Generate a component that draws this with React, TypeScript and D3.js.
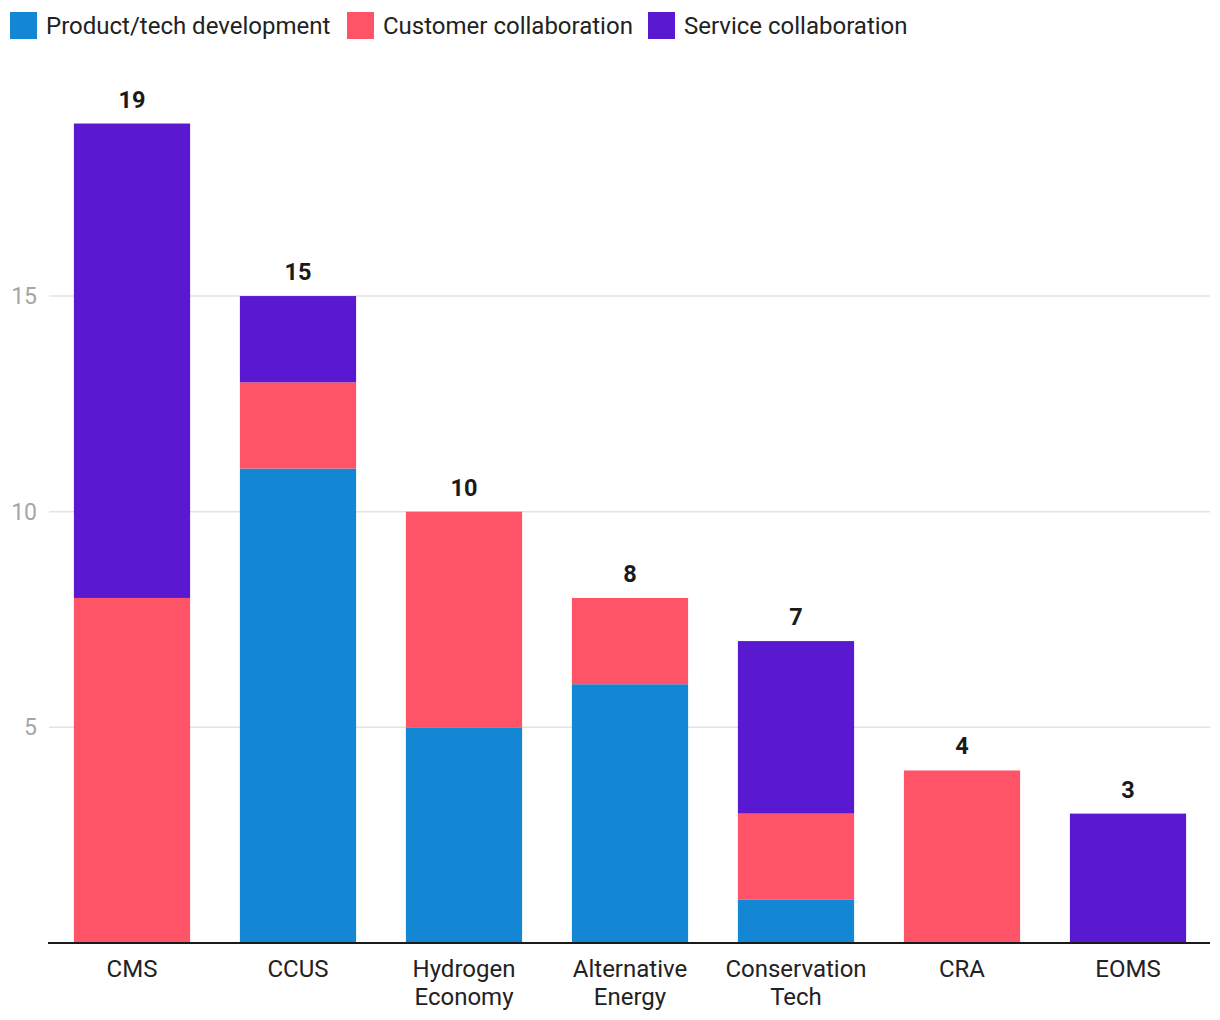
import React from "react";
import * as d3 from "d3";

const categories = ["CMS", "CCUS", "Hydrogen Economy", "Alternative Energy", "Conservation Tech", "CRA", "EOMS"];
const categoryLines = [["CMS"], ["CCUS"], ["Hydrogen", "Economy"], ["Alternative", "Energy"], ["Conservation", "Tech"], ["CRA"], ["EOMS"]];
const seriesNames = ["Product/tech development", "Customer collaboration", "Service collaboration"];
const productTech = [0, 11, 5, 6, 1, 0, 0];
const customerCollab = [8, 2, 5, 2, 2, 4, 0];
const serviceCollab = [11, 2, 0, 0, 4, 0, 3];
const yTicks = [5, 10, 15];
const colors = ["#1386D4", "#FF5468", "#5A19D1"];

export default function App() {
  const W = 1220, H = 1020;
  const x = d3.scaleBand().domain(categories).range([49, 1211]).paddingInner(0.3).paddingOuter(0.15);
  const y = d3.scaleLinear().domain([0, 20]).range([943, 80.4]);
  const rows = categories.map((c, i) => ({ cat: c, p: productTech[i], c: customerCollab[i], s: serviceCollab[i] }));
  const stack = d3.stack<any>().keys(["p", "c", "s"])(rows);
  const font = "Roboto, 'Noto Sans', sans-serif";
  const legendX = [10, 347, 648];
  return (
    <svg width={W} height={H} style={{ position: "absolute", left: 0, top: 0, background: "#fff" }} fontFamily={font}>
      {seriesNames.map((n, i) => (
        <g key={n}>
          <rect x={legendX[i]} y={12} width={27} height={27} fill={colors[i]} />
          <text x={legendX[i] + 36} y={34} fontSize={24} fill="#222">{n}</text>
        </g>
      ))}
      {yTicks.map((t) => (
        <g key={t}>
          <line x1={49} x2={1210} y1={y(t)} y2={y(t)} stroke="#e3e3e3" strokeWidth={1.5} />
          <text x={37} y={y(t) + 8} fontSize={23} fill="#a6a6a6" textAnchor="end">{t}</text>
        </g>
      ))}
      {stack.map((layer, li) => (
        <g key={li} fill={colors[li]}>
          {layer.map((d, i) =>
            d[1] - d[0] > 0 ? (
              <rect key={i} x={x(categories[i])!} width={x.bandwidth()} y={y(d[1])} height={y(d[0]) - y(d[1])} />
            ) : null
          )}
        </g>
      ))}
      {rows.map((r, i) => {
        const total = r.p + r.c + r.s;
        return (
          <text key={i} x={x(r.cat)! + x.bandwidth() / 2} y={y(total) - 16} fontSize={23.5} fontWeight="bold" fill="#1a1a1a" textAnchor="middle">
            {total}
          </text>
        );
      })}
      <line x1={48} x2={1210} y1={943} y2={943} stroke="#1a1a1a" strokeWidth={2} />
      {categoryLines.map((lines, i) => (
        <text key={i} x={x(categories[i])! + x.bandwidth() / 2} y={977} fontSize={24} fill="#222" textAnchor="middle">
          {lines.map((l, j) => (
            <tspan key={j} x={x(categories[i])! + x.bandwidth() / 2} dy={j === 0 ? 0 : 28}>{l}</tspan>
          ))}
        </text>
      ))}
    </svg>
  );
}
